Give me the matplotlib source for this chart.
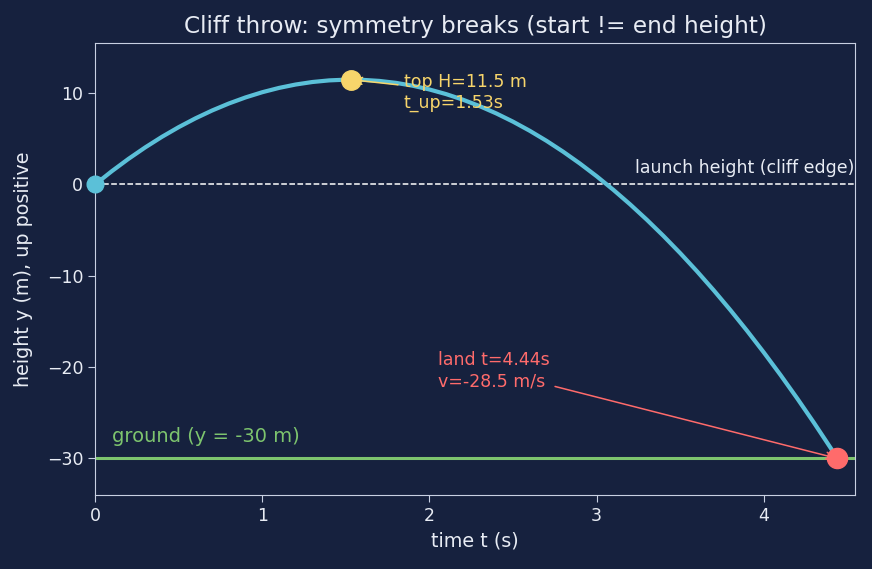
import numpy as np
import matplotlib
matplotlib.use("Agg")
import matplotlib.pyplot as plt

# trajectory samples (t in s, y in m)
t_vals = [0.0, 0.1, 0.2, 0.3, 0.4, 0.5, 0.6, 0.7, 0.8, 0.9, 1.0, 1.1, 1.2, 1.3, 1.4,
          1.5, 1.6, 1.7, 1.8, 1.9, 2.0, 2.1, 2.2, 2.3, 2.4, 2.5, 2.6, 2.7, 2.8, 2.9,
          3.0, 3.1, 3.2, 3.3, 3.4, 3.5, 3.6, 3.7, 3.8, 3.9, 4.0, 4.1, 4.2, 4.3, 4.4, 4.44]
y_vals = [0.0, 1.451, 2.804, 4.059, 5.216, 6.275, 7.236, 8.099, 8.864, 9.531, 10.1,
          10.571, 10.944, 11.219, 11.396, 11.475, 11.456, 11.339, 11.124, 10.811, 10.4,
          9.891, 9.284, 8.579, 7.776, 6.875, 5.876, 4.779, 3.584, 2.291, 0.9, -0.589,
          -2.176, -3.861, -5.644, -7.525, -9.504, -11.581, -13.756, -16.029, -18.4,
          -20.869, -23.436, -26.101, -28.864, -30.0]

t_top, H_top = 1.53, 11.48
t_land, y_land, v_land = 4.44, -30.0, -28.5
ground_y = -30.0

BG = "#16213e"
FG = "#e8ecf4"
SPINE = "#c8d0e2"
CYAN = "#5bc0d8"
YELLOW = "#f7d56b"
RED = "#ff6b6b"
GREEN = "#7dc46e"

fig = plt.figure(figsize=(8.72, 5.69), dpi=100, facecolor=BG)
ax = fig.add_axes([0.109, 0.13, 0.8715, 0.7946])
ax.set_facecolor(BG)

ax.axhline(ground_y, color=GREEN, lw=2.2, zorder=2)
ax.axhline(0, color="white", lw=1.1, ls="--", zorder=2)
ax.plot(t_vals, y_vals, color=CYAN, lw=3, zorder=3)

ax.plot([0], [0], "o", color=CYAN, ms=12, zorder=4, clip_on=False)
ax.plot([t_top], [H_top], "o", color=YELLOW, ms=14, zorder=5)
ax.plot([t_land], [y_land], "o", color=RED, ms=14.5, zorder=5, clip_on=False)

ax.annotate("top H=11.5 m\nt_up=1.53s", xy=(t_top, H_top), xytext=(1.845, 10.1),
            color=YELLOW, fontsize=12.5, va="center", ha="left",
            arrowprops=dict(arrowstyle="->", color=YELLOW, lw=1.1))
ax.annotate("land t=4.44s\nv=-28.5 m/s", xy=(t_land, y_land), xytext=(2.05, -20.4),
            color=RED, fontsize=12.5, va="center", ha="left",
            arrowprops=dict(arrowstyle="->", color=RED, lw=1.1))

ax.text(4.54, 0.8, "launch height (cliff edge)", color=FG, fontsize=12.5,
        ha="right", va="bottom")
ax.text(0.1, -28.6, "ground (y = -30 m)", color=GREEN, fontsize=14,
        ha="left", va="bottom")

ax.set_xlim(0, 4.545)
ax.set_ylim(-34, 15.5)
ax.set_title("Cliff throw: symmetry breaks (start != end height)", color=FG, fontsize=16.7, pad=7)
ax.set_xlabel("time t (s)", color=FG, fontsize=13.8, labelpad=5)
ax.set_ylabel("height y (m), up positive", color=FG, fontsize=13.8, labelpad=10)
ax.tick_params(colors=SPINE, labelcolor=FG, labelsize=12.5, length=5)
for s in ax.spines.values():
    s.set_color(SPINE)

fig.savefig("out.png", dpi=100, facecolor=BG)
